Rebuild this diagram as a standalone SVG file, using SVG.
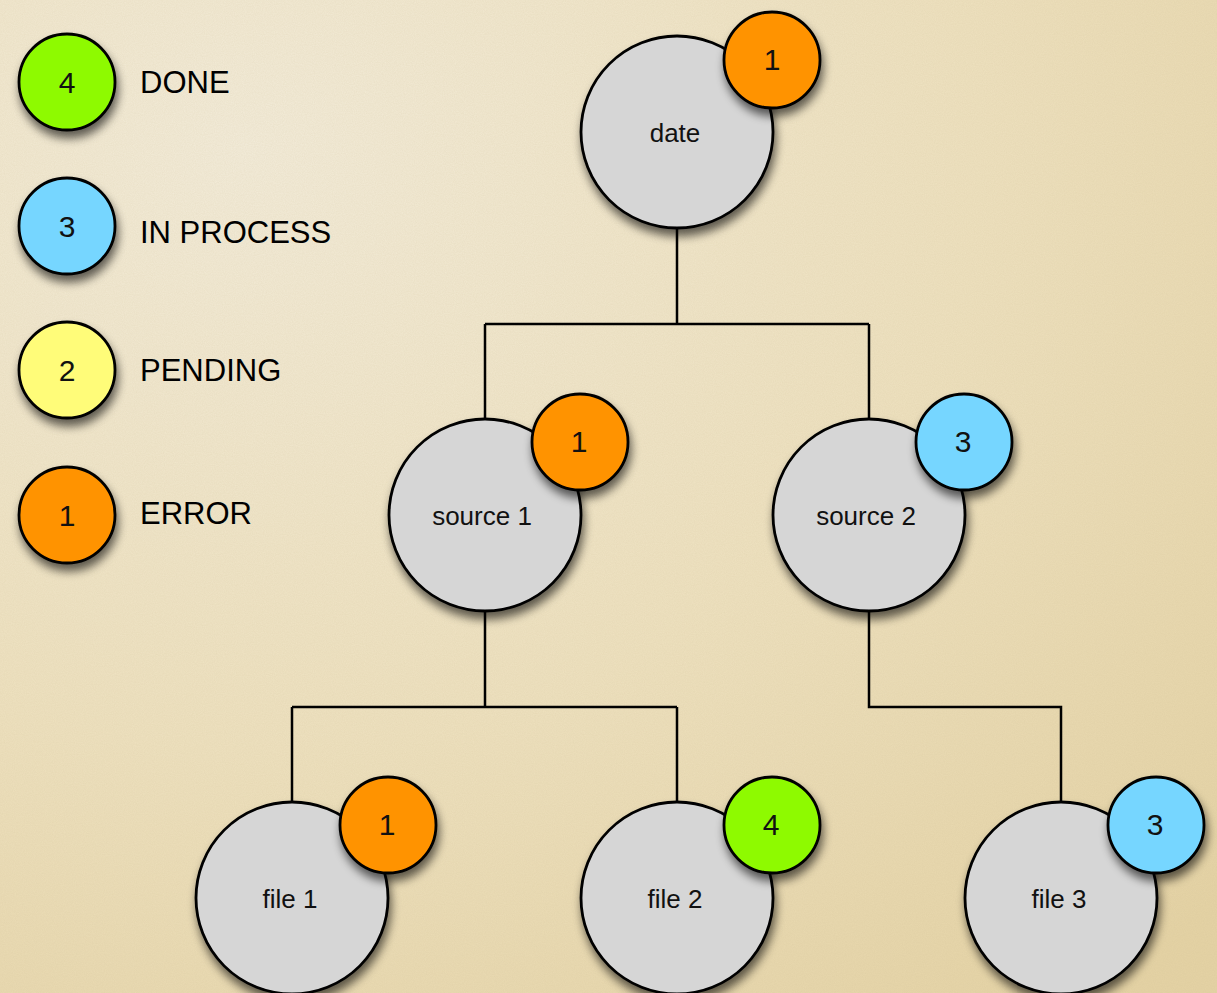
<svg xmlns="http://www.w3.org/2000/svg" width="1217" height="993" viewBox="0 0 1217 993">
  <defs>
    <radialGradient id="paper" cx="0.2" cy="0.15" r="1.1">
      <stop offset="0" stop-color="#f3ecda"/>
      <stop offset="0.55" stop-color="#eee1bf"/>
      <stop offset="1" stop-color="#e5d3a5"/>
    </radialGradient>
    <filter id="grain" x="0" y="0" width="100%" height="100%">
      <feTurbulence type="fractalNoise" baseFrequency="0.9" numOctaves="2" seed="3" result="n"/>
      <feColorMatrix in="n" type="matrix" values="0 0 0 0 0.55  0 0 0 0 0.45  0 0 0 0 0.25  0 0 0 0.18 0"/>
    </filter>
    <filter id="shadow" x="-30%" y="-30%" width="160%" height="170%">
      <feGaussianBlur in="SourceAlpha" stdDeviation="5"/>
      <feOffset dx="2" dy="7" result="b"/>
      <feComponentTransfer><feFuncA type="linear" slope="0.6"/></feComponentTransfer>
      <feMerge><feMergeNode/><feMergeNode in="SourceGraphic"/></feMerge>
    </filter>
  </defs>
  <style>
    .node { fill: #d6d6d6; stroke: #000; stroke-width: 2.8; }
    .badge { stroke: #000; stroke-width: 2.8; }
    .error { fill: #ff9300; }
    .done { fill: #8efa00; }
    .proc { fill: #76d6ff; }
    .pend { fill: #fffc79; }
    .lbl { font-family: "Liberation Sans", Arial, sans-serif; font-size: 26px; fill: #111; text-anchor: middle; }
    .num { font-family: "Liberation Sans", Arial, sans-serif; font-size: 30px; fill: #111; text-anchor: middle; }
    .key { font-family: "Liberation Sans", Arial, sans-serif; font-size: 31px; fill: #000; }
    .wire { fill: none; stroke: #000; stroke-width: 2.5; }
  </style>

  <!-- paper background -->
  <rect width="1217" height="993" fill="url(#paper)"/>
  <rect width="1217" height="993" filter="url(#grain)"/>

  <!-- tree connectors -->
  <g id="connectors">
    <path class="wire" d="M677 229 V324 M485 324 H869 M485 324 V418 M869 324 V418"/>
    <path class="wire" d="M485 612 V707 M292 707 H677 M292 707 V801 M677 707 V801"/>
    <path class="wire" d="M869 612 V707 H1061 V801"/>
  </g>

  <!-- status legend -->
  <g id="legend-done" filter="url(#shadow)">
    <circle class="badge done" cx="67" cy="82" r="48"/>
  </g>
  <text class="num" x="67" y="93">4</text>
  <text class="key" x="140" y="93">DONE</text>

  <g id="legend-process" filter="url(#shadow)">
    <circle class="badge proc" cx="67" cy="226" r="48"/>
  </g>
  <text class="num" x="67" y="237">3</text>
  <text class="key" x="140" y="243">IN PROCESS</text>

  <g id="legend-pending" filter="url(#shadow)">
    <circle class="badge pend" cx="67" cy="370" r="48"/>
  </g>
  <text class="num" x="67" y="381">2</text>
  <text class="key" x="140" y="381">PENDING</text>

  <g id="legend-error" filter="url(#shadow)">
    <circle class="badge error" cx="67" cy="515" r="48"/>
  </g>
  <text class="num" x="67" y="526">1</text>
  <text class="key" x="140" y="524">ERROR</text>

  <!-- nodes -->
  <g id="node-date">
    <g filter="url(#shadow)"><circle class="node" cx="677" cy="132" r="96"/></g>
    <text class="lbl" x="675" y="142">date</text>
    <g filter="url(#shadow)"><circle class="badge error" cx="772" cy="60" r="48"/></g>
    <text class="num" x="772" y="70">1</text>
  </g>

  <g id="node-source1">
    <g filter="url(#shadow)"><circle class="node" cx="485" cy="515" r="96"/></g>
    <text class="lbl" x="482" y="525">source 1</text>
    <g filter="url(#shadow)"><circle class="badge error" cx="580" cy="442" r="48"/></g>
    <text class="num" x="579" y="452">1</text>
  </g>

  <g id="node-source2">
    <g filter="url(#shadow)"><circle class="node" cx="869" cy="515" r="96"/></g>
    <text class="lbl" x="866" y="525">source 2</text>
    <g filter="url(#shadow)"><circle class="badge proc" cx="964" cy="442" r="48"/></g>
    <text class="num" x="963" y="452">3</text>
  </g>

  <g id="node-file1">
    <g filter="url(#shadow)"><circle class="node" cx="292" cy="898" r="96"/></g>
    <text class="lbl" x="290" y="908">file 1</text>
    <g filter="url(#shadow)"><circle class="badge error" cx="388" cy="825" r="48"/></g>
    <text class="num" x="387" y="835">1</text>
  </g>

  <g id="node-file2">
    <g filter="url(#shadow)"><circle class="node" cx="677" cy="898" r="96"/></g>
    <text class="lbl" x="675" y="908">file 2</text>
    <g filter="url(#shadow)"><circle class="badge done" cx="772" cy="825" r="48"/></g>
    <text class="num" x="771" y="835">4</text>
  </g>

  <g id="node-file3">
    <g filter="url(#shadow)"><circle class="node" cx="1061" cy="898" r="96"/></g>
    <text class="lbl" x="1059" y="908">file 3</text>
    <g filter="url(#shadow)"><circle class="badge proc" cx="1156" cy="825" r="48"/></g>
    <text class="num" x="1155" y="835">3</text>
  </g>
</svg>
